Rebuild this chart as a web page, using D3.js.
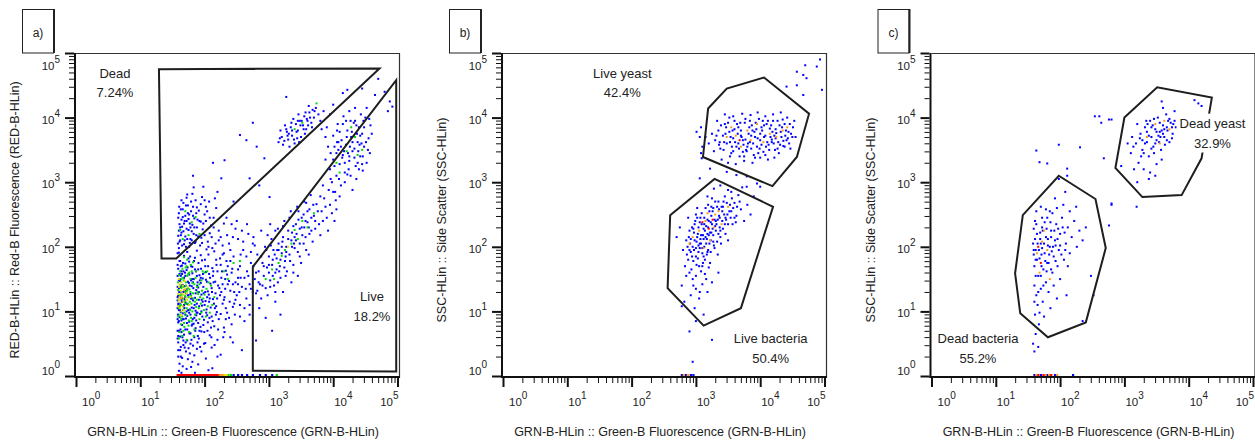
<!DOCTYPE html>
<html><head><meta charset="utf-8">
<script src="https://cdn.jsdelivr.net/npm/d3@7"></script>
<style>
body{margin:0;background:#fff;}
svg text{font-family:Arial,"Liberation Sans",sans-serif;fill:#222;}
</style>
</head><body>
<svg id="chart" width="1255" height="440"></svg>
<script>
// ---------------- DATA (log10 exponents: [x, y]) ----------------
const panelTags = ['a)', 'b)', 'c)'];
const yTitles = ['RED-B-HLin :: Red-B Fluorescence (RED-B-HLin)', 'SSC-HLin :: Side Scatter (SSC-HLin)', 'SSC-HLin :: Side Scatter (SSC-HLin)'];
const xTitle = 'GRN-B-HLin :: Green-B Fluorescence (GRN-B-HLin)';
const tickExps = [0, 1, 2, 3, 4, 5];

// gates
const gateDead = [[1.29,4.75],[4.72,4.76],[1.56,1.82],[1.33,1.82]];
const gateLive = [[2.75,1.69],[4.98,4.58],[4.98,0.07],[2.75,0.08]];
const gateLiveYeast = [[3.19,4.14],[3.48,4.45],[4.06,4.62],[4.76,4.06],[4.57,3.39],[4.19,2.94],[3.11,3.39]];
const gateLiveBacteria = [[3.29,3.05],[4.20,2.62],[3.70,1.05],[3.12,0.78],[2.56,1.36],[2.60,2.49]];
const gateDeadYeast = [[3.00,4.00],[3.51,4.47],[4.36,4.31],[4.20,3.37],[3.89,2.80],[3.28,2.77],[2.86,3.22]];
const gateDeadBacteria = [[1.98,3.10],[2.55,2.74],[2.71,1.98],[2.40,0.83],[1.81,0.60],[1.38,0.97],[1.30,1.59],[1.42,2.49]];

const gateNamesA = ['Dead', 'Live'];
const gatePctA = ['7.24%', '18.2%'];
const gateNamesB = ['Live yeast', 'Live bacteria'];
const gatePctB = ['42.4%', '50.4%'];
const gateNamesC = ['Dead yeast', 'Dead bacteria'];
const gatePctC = ['32.9%', '55.2%'];

// panel a events
const aBlue = [
[1.60,0.08],[1.66,0.15],[1.72,0.11],[1.81,0.22],[1.63,0.30],[1.90,0.18],[1.77,0.35],[2.02,0.27],[1.59,0.40],[1.69,0.44],[1.85,0.05],[2.12,0.12],[1.95,0.38],[1.61,0.19],[1.74,0.26],[2.25,0.33],[1.88,0.42],[1.64,0.05],[2.06,0.09],[1.79,0.14],
[1.59,0.52],[1.62,0.61],[1.67,0.48],[1.70,0.72],[1.73,0.55],[1.78,0.66],[1.82,0.47],[1.86,0.74],[1.91,0.58],[1.95,0.69],[2.01,0.51],[2.08,0.63],[2.15,0.77],[1.60,0.70],[1.65,0.79],[1.75,0.43],[1.84,0.60],[1.93,0.45],[2.20,0.56],[2.31,0.68],[1.68,0.64],[1.98,0.79],[1.58,0.58],[2.11,0.44],[1.80,0.78],[2.40,0.60],[1.63,0.45],[1.89,0.52],
[1.59,0.83],[1.61,0.91],[1.60,1.02],[1.62,1.13],[1.64,0.86],[1.66,0.97],[1.67,1.08],[1.69,1.19],[1.71,0.89],[1.72,1.00],[1.74,1.11],[1.76,0.84],[1.78,0.95],[1.80,1.06],[1.82,1.17],[1.84,0.90],[1.86,1.01],[1.88,1.12],[1.90,0.82],[1.93,0.96],[1.96,1.09],[1.99,0.87],[2.03,1.03],[2.07,1.15],[2.11,0.92],[2.16,1.05],[2.22,0.88],[2.28,1.12],[2.35,0.98],[2.44,1.07],[1.58,1.17],[1.63,0.99],[1.70,1.14],[1.77,1.03],[1.83,0.81],[1.91,1.18],[2.00,1.10],[2.05,0.83],[2.13,1.19],[1.65,1.15],[1.73,0.93],[1.87,0.94],[1.95,1.00],[2.19,0.99],
[1.59,1.24],[1.60,1.36],[1.62,1.47],[1.61,1.58],[1.64,1.29],[1.66,1.41],[1.68,1.52],[1.70,1.22],[1.72,1.34],[1.74,1.46],[1.76,1.57],[1.78,1.27],[1.80,1.39],[1.83,1.50],[1.85,1.21],[1.87,1.33],[1.89,1.45],[1.92,1.56],[1.95,1.26],[1.98,1.38],[2.02,1.49],[2.05,1.31],[2.09,1.43],[2.13,1.55],[2.17,1.28],[2.21,1.40],[2.26,1.52],[2.32,1.35],[2.38,1.47],[2.46,1.30],[1.63,1.55],[1.69,1.39],[1.75,1.25],[1.81,1.59],[1.90,1.37],[1.97,1.51],[2.04,1.22],[2.11,1.36],[2.24,1.25],[1.67,1.30],[1.79,1.48],[1.94,1.44],[2.07,1.58],[2.35,1.57],[2.52,1.42],
[1.59,1.66],[1.62,1.78],[1.65,1.71],[1.68,1.86],[1.72,1.64],[1.76,1.77],[1.81,1.69],[1.85,1.83],[1.90,1.65],[1.96,1.79],[2.01,1.70],[2.06,1.88],[2.12,1.67],[2.18,1.80],[2.25,1.72],[2.33,1.63],[1.60,1.91],[1.73,1.92],[1.88,1.94],[2.02,1.61],[2.15,1.93],[2.40,1.78],[1.94,1.87],[1.70,1.74],
[1.585,0.95],[1.595,1.10],[1.605,1.30],[1.615,1.50],[1.625,0.72],[1.635,1.62],[1.645,1.40],[1.655,0.60],[1.665,1.75],[1.675,0.88],[1.685,1.05],[1.695,1.60],[1.705,0.52],[1.715,1.28],[1.725,0.82],[1.735,1.68],[1.745,1.02],[1.755,1.44],[1.765,0.66],[1.775,1.85],[1.785,1.20],[1.795,0.56],[1.805,1.50],[1.815,0.88],[1.825,1.36],[1.835,1.78],[1.845,1.10],[1.855,0.70],[1.865,1.62],[1.875,0.98],[1.885,1.40],[1.895,0.62],[1.905,1.75],[1.915,1.08],[1.925,1.48],[1.935,0.76],[1.945,1.66],[1.955,1.18],[1.965,0.92],[1.975,1.58],[1.985,1.28],[1.995,0.68],[2.005,1.80],[2.015,1.16],[2.025,0.98],[2.035,1.46],[2.045,0.70],[2.055,1.70],[2.065,1.26],[2.075,0.90],[2.085,1.52],[2.095,1.06],[2.105,0.60],[2.115,1.30],[2.125,0.85],[2.135,1.62],[2.145,1.12],[2.155,0.48],[2.165,1.46],[2.175,0.95],[2.185,1.72],[2.195,1.20],[2.21,0.72],[2.23,1.36],[2.25,0.96],[2.27,1.62],[2.29,0.60],[2.31,1.22],[2.33,0.88],[2.36,1.42],[2.39,1.15],[2.42,0.80],[2.48,1.18],[2.55,0.92],[2.34,1.78],[2.28,1.88],[2.43,1.66],
[1.58,0.70],[1.58,0.88],[1.58,1.05],[1.58,1.22],[1.58,1.38],[1.58,1.55],[1.58,1.72],[1.58,1.90],[1.59,0.30],[1.59,0.62],[1.59,1.12],[1.60,1.48],[1.60,0.85],[1.61,1.22],[1.61,1.78],[1.62,0.40],[1.62,1.02],[1.63,1.38],[1.63,1.70],[1.64,0.68],[1.64,1.18],[1.65,1.58],[1.65,0.28],[1.66,0.88],[1.67,1.62],[1.67,0.55],[1.68,1.10],[1.69,1.32],[1.70,0.95],[1.70,1.55],[1.71,0.38],[1.72,1.12],[1.73,0.72],[1.74,1.25],[1.75,1.82],[1.76,0.98],[1.77,1.40],[1.78,0.50],[1.79,1.70],[1.80,1.20],[1.81,0.80],[1.82,1.45],[1.83,1.05],[1.84,0.32],[1.85,1.65],[1.86,1.28],[1.87,0.86],[1.88,1.55],[1.89,0.98],[1.91,1.30],[1.92,0.70],[1.94,1.52],[1.97,1.15],[1.99,0.50],[2.01,1.30],[2.04,0.94],[2.08,1.20],[2.10,0.75],[2.14,1.45],[2.18,1.08],
[1.60,1.98],[1.62,2.10],[1.64,2.22],[1.61,2.35],[1.66,2.46],[1.63,2.58],[1.68,2.04],[1.70,2.16],[1.72,2.28],[1.69,2.40],[1.74,2.52],[1.71,2.64],[1.76,2.00],[1.78,2.12],[1.80,2.24],[1.77,2.36],[1.82,2.48],[1.79,2.70],[1.85,2.06],[1.87,2.18],[1.84,2.30],[1.89,2.42],[1.91,2.56],[1.93,2.02],[1.95,2.14],[1.97,2.27],[1.94,2.39],[2.00,2.50],[2.02,2.62],[2.05,2.08],[2.08,2.21],[2.10,2.33],[2.14,2.45],[2.18,2.60],[1.59,2.17],[1.65,2.31],[1.73,2.81],[1.83,2.92],[1.96,2.77],[2.07,2.70],[2.20,2.85],[1.60,2.52],[1.75,2.43],[1.88,2.61],[2.03,1.96],[2.12,1.98],[2.25,2.15],[2.30,2.36],[1.67,2.68],[1.81,2.82],[1.98,2.93],[2.16,2.75],
[1.585,2.05],[1.59,2.45],[1.60,2.25],[1.605,2.62],[1.61,2.08],[1.62,2.30],[1.63,2.18],[1.64,2.42],[1.65,2.02],[1.66,2.58],[1.67,2.24],[1.68,2.36],[1.69,2.10],[1.70,2.48],[1.71,2.00],[1.72,2.40],[1.73,2.12],[1.74,2.64],[1.75,2.26],[1.76,2.50],[1.77,2.06],[1.78,2.30],[1.79,2.55],[1.80,2.10],[1.81,2.34],[1.82,2.62],[1.83,2.20],[1.84,2.44],[1.86,2.08],[1.87,2.52],[1.88,2.30],[1.90,2.16],[1.92,2.40],[1.94,2.66],[1.96,2.06],[1.98,2.36],[2.00,2.18],[2.02,2.40],[2.04,2.55],[2.06,2.00],[2.08,2.45],[2.11,2.15],[2.14,2.30],[2.17,2.05],[2.22,2.25],[1.64,2.72],[1.72,2.76],[1.86,2.72],[2.00,2.72],
[2.30,1.90],[2.38,2.05],[2.45,1.85],[2.52,2.12],[2.60,1.95],[2.68,2.20],[2.55,1.70],[2.42,1.60],[2.62,1.52],[2.48,2.28],[2.72,1.75],[2.35,2.18],[2.58,1.38],[2.66,1.62],[2.50,1.25],[2.78,2.02],[2.28,1.42],[2.40,1.32],[2.70,1.42],[2.33,1.05],[2.55,1.10],[2.47,0.95],[2.62,0.85],[2.30,0.75],[2.44,0.52],[2.20,0.30],[2.58,0.40],[2.65,1.20],[2.75,1.30],[2.52,1.52],
[2.20,1.62],[2.24,1.82],[2.28,2.02],[2.32,1.50],[2.36,1.70],[2.40,1.95],[2.44,2.15],[2.48,1.45],[2.52,1.65],[2.56,1.88],[2.60,2.08],[2.64,1.35],[2.68,1.55],[2.72,1.92],[2.76,2.15],[2.22,2.10],[2.30,1.18],[2.38,0.90],[2.46,1.12],[2.54,1.30],[2.62,1.05],[2.70,0.95],[2.58,2.25],[2.66,2.35],[2.50,2.40],[2.42,2.35],[2.34,2.45],[2.26,1.30],[2.44,1.42],[2.56,1.52],
[2.55,3.73],[2.65,3.65],[2.75,3.92],[2.81,3.55],[2.13,3.30],[2.31,3.34],[2.26,3.06],[1.82,3.10],[2.93,3.37],[3.01,2.77],[2.70,3.06],[3.27,4.32],[2.45,2.70],[2.85,2.95],
[3.15,3.62],[3.20,3.70],[3.22,3.58],[3.28,3.78],[3.30,3.66],[3.34,3.85],[3.36,3.72],[3.40,3.60],[3.42,3.90],[3.45,3.80],[3.48,3.95],[3.50,3.70],[3.53,3.88],[3.55,4.02],[3.58,3.82],[3.60,3.95],[3.63,4.08],[3.66,3.92],[3.68,4.12],[3.70,4.00],[3.73,4.15],[3.38,3.98],[3.25,3.88],[3.46,4.05],[3.62,4.18],[3.18,3.80],[3.32,3.55],[3.56,3.75],[3.77,4.05],[3.44,3.68],
[3.17,3.68],[3.24,3.64],[3.27,3.82],[3.31,3.75],[3.35,3.92],[3.39,3.66],[3.43,3.78],[3.47,3.62],[3.51,3.95],[3.54,3.82],[3.57,4.08],[3.61,3.88],[3.64,4.00],[3.67,3.85],[3.71,4.10],[3.36,3.80],[3.49,3.88],[3.59,3.98],[3.29,3.72],[3.45,3.95],
[3.95,3.20],[4.00,3.35],[4.05,3.10],[4.08,3.50],[4.10,3.28],[4.13,3.65],[4.15,3.42],[4.18,3.15],[4.20,3.58],[4.22,3.80],[4.25,3.33],[4.28,3.70],[4.30,3.48],[4.32,3.92],[4.35,3.25],[4.38,3.62],[4.40,3.85],[4.42,3.40],[4.45,3.75],[4.48,3.55],[4.50,4.00],[4.52,3.30],[4.55,3.68],[4.58,3.88],[4.12,2.95],[4.03,2.85],[4.18,3.00],[4.27,3.10],[4.36,3.05],[4.46,3.18],[4.00,3.72],[4.07,3.90],[4.16,4.02],[4.25,4.10],[4.34,4.15],[4.43,4.05],[3.92,3.55],[3.98,3.00],[4.23,3.45],[4.33,3.52],[4.40,3.20],[4.10,3.78],[4.20,3.95],[4.47,3.95],[4.57,3.45],[4.30,2.88],[4.06,3.62],[4.14,3.38],[4.26,3.55],[4.37,3.75],[4.05,3.45],[4.44,3.60],[3.88,3.35],[4.60,3.75],[4.52,4.15],
[3.96,3.45],[4.02,3.25],[4.06,3.80],[4.09,3.05],[4.12,3.55],[4.15,3.90],[4.18,3.30],[4.21,3.70],[4.24,3.20],[4.27,3.95],[4.30,3.62],[4.33,3.38],[4.36,3.88],[4.39,3.48],[4.42,3.72],[4.45,3.28],[4.48,3.85],[4.51,3.62],[4.54,3.50],[4.56,3.98],[4.17,3.48],[4.29,3.78],[4.41,3.58],[4.08,3.62],[4.22,3.12],[4.34,3.95],[4.46,3.40],[4.02,3.55],[4.25,3.40],[4.38,3.30],
[3.80,3.95],[3.85,4.10],[3.90,3.85],[3.95,4.05],[4.00,4.20],[3.88,3.70],[3.82,3.82],
[4.65,4.35],[4.80,4.40],[4.85,4.10],[4.45,4.45],[4.70,4.60],[4.92,4.17],[4.88,4.25],[4.22,4.43],[4.15,4.38],
[2.72,1.35],[2.78,1.50],[2.80,1.28],[2.84,1.62],[2.86,1.42],[2.90,1.75],[2.92,1.55],[2.95,1.36],[2.97,1.68],[3.00,1.85],[3.02,1.48],[3.05,1.72],[3.07,1.95],[3.10,1.60],[3.12,1.82],[3.15,2.05],[3.17,1.70],[3.20,1.90],[3.22,2.15],[3.25,1.78],[3.27,2.00],[3.30,2.25],[3.32,1.88],[3.35,2.10],[3.38,2.32],[3.40,1.98],[3.43,2.20],[3.46,2.42],[3.48,2.05],[3.51,2.30],[3.54,2.50],[3.57,2.15],[3.60,2.38],[3.63,2.58],[3.66,2.25],[3.70,2.48],[3.74,2.66],[3.78,2.35],[3.82,2.55],[3.86,2.75],[3.90,2.45],[3.95,2.65],[4.00,2.85],[4.05,2.58],[4.10,2.78],[2.88,1.20],[2.98,1.25],[3.08,1.40],[3.18,1.52],[3.28,1.62],[3.38,1.72],[3.48,1.85],[3.58,1.95],[3.68,2.08],[3.80,2.18],[2.76,1.70],[2.82,1.88],[2.94,2.00],[3.04,2.12],[3.14,2.28],[3.24,2.40],[3.34,2.55],[3.44,2.62],[3.55,2.70],[3.65,2.80],[3.00,1.60],[3.13,1.95],[3.26,1.85],[3.36,2.00],[3.16,1.62],[3.06,1.80],[3.42,2.10],[3.52,2.18],[3.62,2.30],[3.72,2.40],[2.85,1.05],[2.95,0.90],[3.10,1.15],[3.22,1.30],[3.35,1.45],[2.70,1.10],[3.45,1.55],[2.65,1.85],[2.75,2.05],[2.88,2.25],[3.02,2.35],[3.92,2.25],[4.02,2.40],[3.84,2.95],[3.96,3.05],[3.05,0.70],[2.80,0.55],[3.18,0.95],
[2.80,1.60],[2.84,1.45],[2.88,1.85],[2.92,1.70],[2.96,1.95],[3.00,1.72],[3.03,2.02],[3.06,1.55],[3.09,1.88],[3.12,1.65],[3.15,1.95],[3.18,1.80],[3.21,2.08],[3.24,1.68],[3.27,1.92],[3.30,2.12],[3.33,1.78],[3.36,2.22],[3.39,2.05],[3.42,2.35],[3.45,1.92],[3.48,2.28],[3.51,2.45],[3.54,2.05],[3.57,2.40],[3.60,2.55],[3.63,2.20],[3.66,2.45],[3.69,2.65],[3.72,2.28],[3.76,2.55],[3.80,2.78],[3.84,2.40],[3.88,2.62],[3.93,2.88],[3.98,2.52],[4.04,2.72],[2.90,1.40],[3.02,1.38],[3.14,1.45],[3.26,1.55],[3.38,1.60],[3.50,1.75],[3.62,1.88],[2.98,2.18],[3.10,2.25],[3.22,2.32],[3.32,2.45],[3.46,2.55],[3.58,2.68],[3.10,1.30],[2.82,1.32],[3.20,2.00],[3.40,2.15],[3.55,2.30]
];
const aGreen = [[1.60,1.05],[1.62,1.25],[1.65,0.92],[1.67,1.38],[1.70,1.12],[1.73,1.55],[1.75,0.78],[1.78,1.30],[1.81,1.00],[1.84,1.42],[1.88,1.18],[1.92,0.88],[1.96,1.32],[2.00,1.60],[2.05,1.08],[1.61,0.68],[1.64,1.50],[1.69,0.98],[1.72,1.70],[1.77,1.15],[1.83,0.62],[1.86,1.52],[1.90,1.27],[1.99,1.02],[2.10,1.40],[1.59,1.33],[1.66,1.20],[1.74,1.36],[1.80,1.62],[1.94,1.12],[2.15,1.22],[1.63,0.80],[1.71,1.45],[1.79,0.90],[1.87,1.07],[2.03,1.35],
[1.595,1.18],[1.62,0.95],[1.64,1.36],[1.66,1.52],[1.68,0.82],[1.70,1.30],[1.72,1.05],[1.75,1.22],[1.78,1.50],[1.80,0.85],[1.82,1.28],[1.85,1.15],[1.88,1.38],[1.91,1.05],[1.95,1.48],[1.98,1.20],[2.02,0.92],[2.06,1.45],[1.62,1.62],[1.67,0.70],[1.73,1.80],[1.60,0.58],[1.76,1.60],[1.69,1.16],[1.84,0.72],[2.12,1.10],[1.63,1.10],[1.71,1.40],
[1.585,1.45],[1.59,0.92],[1.605,1.56],[1.615,1.08],[1.625,1.40],[1.635,0.88],[1.645,1.26],[1.655,1.66],[1.665,1.02],[1.675,1.48],[1.685,0.76],[1.695,1.24],[1.705,1.68],[1.715,0.94],[1.725,1.32],[1.735,1.12],[1.745,1.58],[1.755,0.86],[1.765,1.34],[1.775,1.02],[1.785,1.72],[1.795,1.12],[1.81,1.44],[1.83,1.20],[1.85,0.95],[1.87,1.62],[1.89,1.30],[1.92,1.42],[1.95,0.98],[1.97,1.62],[2.00,1.26],[2.04,1.62],[2.08,0.98],[1.76,0.68],[1.65,0.62],[1.72,0.56],[1.82,1.76],[1.68,1.84],[1.93,1.22],[1.79,1.24],
[1.66,2.12],[1.80,2.38],[1.92,2.20],[1.70,2.55],[2.45,1.75],[2.36,1.50],[3.52,3.92],[3.40,3.82],[3.74,4.22],[4.21,3.48],[4.34,3.70],[4.10,3.15],[4.45,3.50],[4.28,3.85],
[1.62,2.26],[1.75,2.18],[1.86,2.46],[2.30,1.62],[2.55,1.78],
[3.05,1.65],[3.25,1.95],[3.45,2.12],[3.15,1.75],[3.60,2.30],[3.35,2.05],[2.95,1.50],[3.70,2.52],[3.20,1.86],[3.40,2.26],[3.08,1.50],[3.52,2.40],[4.05,3.30],[4.38,3.42]];
const aYellow = [[1.60,1.18],[1.63,1.32],[1.66,1.08],[1.68,1.26],[1.61,1.42],[1.71,1.20],[1.64,1.00],[1.74,1.38],[1.59,1.27],[1.69,1.47],[1.76,1.10],[1.62,1.14],[3.30,2.00],
[1.60,1.38],[1.65,1.28],[1.67,1.15],[1.62,1.05],[1.70,1.35],[1.64,1.45],[1.73,1.18],[1.61,1.22],[1.59,1.08],[1.66,1.40],[1.72,1.28],[1.63,0.94],[1.68,1.02],[1.78,1.22],[1.60,1.50]];
const aOrange = [[1.65,1.22],[1.63,1.20],[1.68,1.33]];
// events piled up on the x axis (y at minimum)
const aAxisRed = [1.58,1.60,1.62,1.64,1.66,1.68,1.70,1.72,1.74,1.76,1.78,1.80,1.82,1.84,1.86,1.88,1.90,1.92,1.94,1.96,1.98,2.00,2.02,2.04,2.06,2.08,2.10,2.12,2.14,2.16,2.18,2.20];
const aAxisOrange = [2.22,2.25,2.28];
const aAxisYellow = [2.31,2.34];
const aAxisGreen = [2.37,2.41,3.12];
const aAxisBlue = [2.45,2.52,2.58,2.66,2.75,2.86,2.95,3.05];

// panel b events
const bBlue = [
[3.30,3.65],[3.35,3.80],[3.38,3.52],[3.42,3.72],[3.45,3.90],[3.48,3.60],[3.52,3.78],[3.55,3.45],[3.58,3.68],[3.60,3.95],[3.63,3.55],[3.66,3.85],[3.68,3.40],[3.71,3.70],[3.74,3.58],[3.76,3.92],[3.79,3.48],[3.82,3.75],[3.84,3.62],[3.87,3.88],[3.90,3.42],[3.92,3.70],[3.95,3.55],[3.98,3.98],[4.00,3.65],[4.03,3.80],[4.05,3.47],[4.08,3.72],[4.10,3.90],[4.13,3.58],[4.15,3.83],[4.18,3.66],[4.20,3.95],[4.23,3.50],[4.25,3.76],[4.28,3.62],[4.30,3.88],[4.33,3.70],[4.35,3.97],[4.38,3.55],[4.40,3.80],[4.43,3.68],[4.46,3.90],[4.48,3.75],[4.51,3.85],[4.55,3.70],[3.40,3.35],[3.50,3.30],[3.62,3.28],[3.75,3.33],[3.88,3.30],[4.00,3.38],[4.12,3.35],[4.22,3.38],[3.33,3.95],[3.45,4.05],[3.58,4.02],[3.72,4.06],[3.85,4.04],[3.96,4.08],[4.08,4.02],[4.20,4.05],[4.32,4.08],[4.42,4.00],[3.25,3.75],[3.28,3.48],[3.20,3.60],[3.53,3.62],[3.65,3.75],[3.77,3.66],[3.86,3.52],[3.94,3.82],[4.02,3.58],[4.16,3.70],[4.27,3.52],[4.36,3.64],[3.47,3.85],[3.56,3.55],[3.69,3.92],[3.81,3.60],[3.91,3.78],[4.06,3.88],[4.19,3.78],[4.31,3.58],[4.45,3.60],[3.37,3.62],[3.60,3.82],[3.73,3.47],[3.97,3.45],[4.11,3.62],[4.24,3.68],[4.39,3.72],[4.53,3.95],[3.15,3.70],[3.08,3.85],[3.10,3.55],
[3.32,3.72],[3.36,3.58],[3.39,3.88],[3.43,3.50],[3.46,3.75],[3.50,3.92],[3.53,3.40],[3.57,3.80],[3.61,3.62],[3.64,3.90],[3.67,3.52],[3.70,3.80],[3.73,3.65],[3.77,3.98],[3.80,3.55],[3.83,3.85],[3.86,3.72],[3.89,3.60],[3.93,3.92],[3.96,3.68],[3.99,3.52],[4.02,3.85],[4.06,3.70],[4.09,3.55],[4.12,3.95],[4.14,3.50],[4.17,3.88],[4.21,3.60],[4.24,3.82],[4.27,3.95],[4.29,3.45],[4.32,3.78],[4.36,3.56],[4.38,3.90],[4.41,3.65],[4.44,3.78],[4.47,3.52],[4.50,3.70],[3.58,3.48],[3.75,3.40],[3.92,3.38],[4.08,3.42],[3.66,3.60],[3.84,3.95],[4.00,3.75],[4.18,3.62],[4.34,3.85],[3.44,3.62],[3.54,3.70],[3.70,3.72],[3.88,3.80],[4.04,3.95],[4.22,3.72],[3.52,4.00],[3.78,3.50],
[4.70,4.81],[4.88,4.79],[4.57,4.71],[4.67,4.66],[4.72,4.61],[4.41,4.48],[4.57,4.50],[4.96,4.43],[4.67,4.35],[4.93,4.90],
[3.01,3.78],[3.06,3.70],[3.08,3.45],[3.09,3.37],
[3.22,3.21],[3.48,3.16],[3.63,3.11],[3.79,3.09],[3.95,2.98],[3.06,3.06],[3.79,2.93],[4.00,2.93],
[2.80,1.95],[2.85,2.10],[2.88,1.80],[2.90,2.25],[2.93,1.65],[2.95,2.00],[2.98,2.35],[3.00,1.85],[3.02,2.15],[3.05,1.70],[3.07,2.45],[3.08,2.05],[3.10,1.90],[3.12,2.28],[3.14,1.58],[3.15,2.60],[3.17,2.12],[3.19,1.95],[3.20,2.40],[3.22,1.75],[3.24,2.22],[3.26,2.55],[3.28,2.02],[3.30,2.70],[3.32,2.35],[3.34,1.88],[3.36,2.48],[3.38,2.15],[3.40,2.62],[3.42,2.28],[3.45,2.78],[3.47,2.42],[3.50,2.10],[3.52,2.55],[3.55,2.85],[3.57,2.35],[3.60,2.68],[3.63,2.48],[3.66,2.80],[3.70,2.58],[3.75,2.40],[3.80,2.65],[2.95,1.50],[3.00,1.35],[3.05,1.20],[3.10,1.42],[2.92,1.25],[3.18,1.30],[2.85,1.55],[3.25,1.45],[2.98,1.05],[3.12,0.95],[2.78,1.40],[2.82,1.15],[3.35,1.60],[2.88,2.45],[3.02,2.60],[3.18,2.78],[3.28,2.90],[3.38,2.95],[3.00,2.50],[2.75,2.30],[3.06,1.98],[3.16,2.32],[3.21,2.05],[3.27,2.18],[3.33,2.08],[3.11,2.18],[2.97,2.22],[3.04,2.30],[3.14,1.80],[3.23,1.92],[3.29,2.42],[3.37,2.30],[3.44,2.50],[3.48,2.68],[3.54,2.45],[3.58,2.60],[3.62,2.38],[3.68,2.70],[3.09,2.52],[3.19,2.65],[3.25,2.75],[2.90,1.95],[2.96,1.78],[3.01,2.08],[3.13,2.00],[3.18,2.20],[3.31,2.25],[3.41,2.40],[3.46,2.20],[3.24,2.48],[3.35,2.70],[2.87,2.00],[2.83,1.70],[3.08,1.62],[3.20,1.68],[3.50,2.88],[3.72,2.92],[3.85,2.50],[3.90,2.78],[2.78,1.08],[2.70,2.15],[3.00,0.85],
[2.86,1.88],[2.89,2.15],[2.92,1.92],[2.94,2.30],[2.97,1.95],[2.99,2.40],[3.01,1.72],[3.03,2.20],[3.06,2.05],[3.09,2.35],[3.11,1.75],[3.13,2.45],[3.15,2.15],[3.17,1.88],[3.19,2.30],[3.21,2.55],[3.23,2.10],[3.25,2.35],[3.27,2.60],[3.29,1.98],[3.31,2.40],[3.33,2.62],[3.35,2.20],[3.37,2.45],[3.39,2.05],[3.41,2.55],[3.43,2.70],[3.45,2.35],[3.49,2.50],[3.53,2.65],[3.56,2.75],[3.60,2.45],[3.64,2.62],[3.06,2.38],[3.12,2.12],[3.18,2.42],[3.22,2.22],[3.26,2.28],[3.14,2.25],[3.08,2.18],[2.98,2.10],[3.02,2.45],[2.94,1.85],[3.04,1.92],[2.90,1.60],[3.00,1.55],[3.10,1.70],[3.16,1.50],[2.96,1.40],[3.06,1.30],
[2.91,2.05],[2.96,2.28],[3.00,1.98],[3.03,1.82],[3.07,2.12],[3.10,1.98],[3.13,2.35],[3.16,2.05],[3.20,2.18],[3.23,2.38],[3.27,2.08],[3.30,2.32],[3.34,2.42],[3.38,2.25],[3.42,2.62],[3.46,2.45],[3.50,2.35],[3.55,2.55],[3.24,2.62],[3.12,1.85],[3.04,2.02],[2.92,2.12],[3.18,1.92],[3.36,2.58],
[2.90,0.69],[2.95,0.22],[3.25,0.56]
];
const bOrange = [[3.62,3.72],[3.80,3.80],[4.05,3.62],[4.15,3.75],[3.70,3.55],[3.95,3.90],[4.25,3.70],[3.55,3.85],[4.35,3.80],[3.85,3.65],[4.42,3.85],[3.48,3.70],
[3.05,2.25],[3.15,2.40],[3.22,2.10],[3.30,2.50],[2.95,2.15],[3.40,2.35],[3.12,1.98],[3.35,2.55],[2.90,2.05],[3.50,2.62],[3.28,2.30],[3.18,2.52]];
const bRed = [[3.68,3.65],[3.20,2.28],[3.10,2.38],[3.26,2.42]];
const bAxisBlue = [2.78,2.84,2.92,2.96];
const bAxisOrange = [2.81,2.88];

// panel c events
const cBlue = [
[3.10,3.45],[3.18,3.60],[3.22,3.30],[3.25,3.75],[3.28,3.50],[3.32,3.85],[3.35,3.62],[3.38,3.40],[3.40,3.95],[3.42,3.70],[3.45,3.55],[3.48,3.82],[3.50,3.65],[3.52,4.00],[3.55,3.78],[3.57,3.50],[3.60,3.88],[3.62,3.70],[3.65,4.05],[3.67,3.80],[3.70,3.62],[3.72,3.92],[3.75,3.75],[3.78,4.10],[3.80,3.85],[3.30,3.20],[3.40,3.15],[3.50,3.28],[3.58,3.35],[3.15,3.20],[3.05,3.60],[3.20,3.90],[3.35,3.78],[3.46,3.45],[3.55,3.92],[3.63,3.58],[3.68,3.95],[3.44,3.88],[3.26,3.40],[3.12,3.70],[3.60,4.15],[3.74,3.68],[3.48,3.10],[3.38,3.05],[2.95,3.25],[3.20,3.00],[3.53,3.72],[3.36,3.90],[3.66,3.85],[3.78,3.95],[3.58,4.25],[3.28,3.65],
[3.14,3.55],[3.24,3.68],[3.30,3.45],[3.34,3.95],[3.38,3.72],[3.42,3.52],[3.46,3.98],[3.50,3.78],[3.54,3.62],[3.58,3.80],[3.62,3.82],[3.66,3.65],[3.70,3.98],[3.74,3.85],[3.42,3.85],[3.56,3.70],[3.48,3.60],[3.32,3.60],[3.60,3.75],[3.76,3.90],
[4.09,4.27],[4.20,4.18],[4.15,4.22],
[2.54,4.02],[2.61,4.02],[2.64,3.92],[2.76,3.97],[2.80,3.97],[2.68,3.37],[2.31,3.54],[1.98,3.58],[1.63,3.49],[1.68,3.31],[1.80,3.29],[2.11,3.21],[2.11,3.10],[2.80,2.67],[2.80,2.65],[2.76,2.33],[3.19,2.62],
[1.60,1.70],[1.62,1.95],[1.64,2.20],[1.61,2.40],[1.66,1.55],[1.68,1.82],[1.70,2.05],[1.72,2.30],[1.74,1.65],[1.76,1.90],[1.78,2.15],[1.80,2.45],[1.82,1.75],[1.84,2.00],[1.86,2.25],[1.88,1.60],[1.90,1.85],[1.92,2.10],[1.94,2.35],[1.96,1.70],[1.98,1.95],[2.00,2.20],[2.03,2.45],[2.06,1.80],[2.09,2.05],[2.12,2.30],[2.15,1.90],[2.18,2.15],[2.22,2.40],[2.26,2.00],[2.30,2.25],[2.35,2.10],[1.60,1.40],[1.63,1.25],[1.65,1.10],[1.61,0.95],[1.67,0.80],[1.62,0.65],[1.70,1.35],[1.73,1.15],[1.75,0.92],[1.78,1.45],[1.82,1.30],[1.85,1.05],[1.90,1.40],[1.95,1.20],[2.00,1.50],[1.58,0.50],[1.60,0.38],[1.66,0.45],[1.63,2.55],[1.70,2.62],[1.78,2.58],[1.88,2.52],[1.95,2.60],[2.05,2.65],[2.15,2.55],[2.25,2.62],[1.92,2.75],[2.08,2.85],[1.98,3.05],[2.40,2.30],[2.48,1.55],[2.52,1.25],[2.10,1.25],[2.35,0.85],[1.72,1.98],[1.81,2.12],[1.87,1.93],[1.93,2.02],[2.02,1.88],[1.69,2.22],[1.76,2.38],[1.85,2.38],[2.07,2.22],[1.64,1.80],[1.71,1.70],[1.79,1.62],[1.97,2.28],[2.12,1.70],[1.58,2.05],[1.59,1.88],[1.59,2.28],
[1.59,1.95],[1.61,2.12],[1.62,1.80],[1.63,2.35],[1.65,2.05],[1.67,1.95],[1.69,2.12],[1.71,1.88],[1.73,2.25],[1.75,2.05],[1.77,1.78],[1.79,2.28],[1.81,2.02],[1.83,1.88],[1.86,2.15],[1.89,2.00],[1.91,2.25],[1.93,1.78],[1.96,2.12],[2.00,2.02],[2.04,2.30],[2.08,1.95],[1.62,1.55],[1.66,1.30],[1.70,1.55],[1.74,1.40],[1.80,1.75],[1.86,1.65],[1.60,1.15],[1.68,0.98],[1.72,2.45],[1.84,2.55]
];
const cOrange = [[3.48,3.90],[3.62,3.95],[3.35,3.70],[3.55,3.60],[3.70,3.82],[1.64,1.90],[1.72,2.08],[1.80,1.95],[1.68,1.60],[1.75,2.25],[1.84,1.50]];
const cRed = [[1.66,2.00],[1.70,1.75]];
const cAxisBlue = [1.60,1.70,1.80,1.92,2.20];
const cAxisRed = [1.66,1.74,1.86];
const cAxisOrange = [1.63,1.77,1.83,1.95];

// ---------------- LAYOUT / STYLE ----------------
const colors = {blue:'#0000ff', green:'#00dd00', yellow:'#e8e000', orange:'#ff9a1a', red:'#ff0000'};
const plotTop = 53, plotBottom = 376, plotW = 324, decadeSpan = 321.5;
const panels = [
  {ox:76,  tag:panelTags[0], yTitle:yTitles[0],
   gates:[gateDead, gateLive],
   labelPos:[[39,77.5,97],[296,301,320.5]], labelNames:gateNamesA, labelPct:gatePctA,
   series:[[aBlue,'blue'],[aGreen,'green'],[aYellow,'yellow'],[aOrange,'orange']],
   axisSeries:[[aAxisBlue,'blue'],[aAxisGreen,'green'],[aAxisYellow,'yellow'],[aAxisOrange,'orange'],[aAxisRed,'red']]},
  {ox:503, tag:panelTags[1], yTitle:yTitles[1],
   gates:[gateLiveYeast, gateLiveBacteria],
   labelPos:[[119.3,77.5,97],[267.7,343.3,362.5]], labelNames:gateNamesB, labelPct:gatePctB,
   series:[[bBlue,'blue'],[bOrange,'orange'],[bRed,'red']],
   axisSeries:[[bAxisBlue,'blue'],[bAxisOrange,'orange']]},
  {ox:931.5, tag:panelTags[2], yTitle:yTitles[2],
   gates:[gateDeadYeast, gateDeadBacteria],
   labelPos:[[281,127.6,147.5],[46.5,343.3,362.5]], labelNames:gateNamesC, labelPct:gatePctC,
   series:[[cBlue,'blue'],[cOrange,'orange'],[cRed,'red']],
   axisSeries:[[cAxisBlue,'blue'],[cAxisOrange,'orange'],[cAxisRed,'red']]}
];

const svg = d3.select('#chart');
const P = e => Math.pow(10, e);
const minorVals = [];
[0,1,2,3,4].forEach(d => [2,3,4,5,6,7,8,9].forEach(m => minorVals.push(m * P(d))));
const majorVals = tickExps.map(P);

panels.forEach(p => {
  const ox = p.ox;
  const g = svg.append('g');
  const x = d3.scaleLog().domain([1, 1e5]).range([ox, ox + decadeSpan]);
  const y = d3.scaleLog().domain([1, 1e5]).range([plotBottom, plotTop]);

  const cid = 'clip' + Math.round(ox);
  svg.append('clipPath').attr('id', cid).append('rect')
    .attr('x', ox).attr('y', plotTop).attr('width', plotW).attr('height', plotBottom - plotTop + 1);
  const content = g.append('g').attr('clip-path', `url(#${cid})`);

  // events
  p.series.forEach(([arr, col]) => {
    content.append('g').selectAll('rect').data(arr).join('rect')
      .attr('x', d => x(P(d[0])) - 1).attr('y', d => y(P(d[1])) - 1)
      .attr('width', 2).attr('height', 2).attr('fill', colors[col]);
  });
  p.axisSeries.forEach(([arr, col]) => {
    content.append('g').selectAll('rect').data(arr).join('rect')
      .attr('x', d => x(P(d)) - 1).attr('y', y(1) - 2)
      .attr('width', 2.2).attr('height', 2).attr('fill', colors[col]);
  });

  // gates
  const line = d3.line().x(d => x(P(d[0]))).y(d => y(P(d[1]))).curve(d3.curveLinearClosed);
  p.gates.forEach(gt => {
    content.append('path').attr('d', line(gt)).attr('fill', 'none')
      .attr('stroke', '#1e1e1e').attr('stroke-width', 2).attr('stroke-linejoin', 'miter');
  });

  // gate labels (white background)
  p.labelPos.forEach((lp, i) => {
    const lg = g.append('g');
    const t1 = lg.append('text').attr('x', ox + lp[0]).attr('y', lp[1]).attr('text-anchor', 'middle')
      .attr('font-size', 13).text(p.labelNames[i]);
    const t2 = lg.append('text').attr('x', ox + lp[0]).attr('y', lp[2]).attr('text-anchor', 'middle')
      .attr('font-size', 13).text(p.labelPct[i]);
    const b1 = t1.node().getBBox(), b2 = t2.node().getBBox();
    const x0 = Math.min(b1.x, b2.x) - 3, x1 = Math.max(b1.x + b1.width, b2.x + b2.width) + 3;
    lg.insert('rect', 'text').attr('x', x0).attr('y', b1.y - 2).attr('width', x1 - x0)
      .attr('height', b2.y + b2.height - b1.y + 4).attr('fill', '#fff');
  });

  // frame (top/right)
  g.append('line').attr('x1', ox).attr('x2', ox + plotW).attr('y1', plotTop + 0.5).attr('y2', plotTop + 0.5)
    .attr('stroke', '#333').attr('stroke-width', 1.2);
  g.append('line').attr('x1', ox + plotW - 0.5).attr('x2', ox + plotW - 0.5).attr('y1', plotTop).attr('y2', plotBottom + 2)
    .attr('stroke', '#333').attr('stroke-width', 1.2);

  // axes
  const styleAxis = (sel, w) => { sel.select('.domain').remove(); sel.selectAll('line').attr('stroke', '#111').attr('stroke-width', w); };
  g.append('g').attr('transform', `translate(0,${plotBottom + 2})`)
    .call(d3.axisBottom(x).tickValues(minorVals).tickSize(5).tickFormat(''))
    .call(s => styleAxis(s, 1));
  g.append('g').attr('transform', `translate(0,${plotBottom + 2})`)
    .call(d3.axisBottom(x).tickValues(majorVals).tickSize(9).tickFormat(''))
    .call(s => styleAxis(s, 2));
  g.append('g').attr('transform', `translate(${ox - 2},0)`)
    .call(d3.axisLeft(y).tickValues(minorVals).tickSize(5).tickFormat(''))
    .call(s => styleAxis(s, 1));
  g.append('g').attr('transform', `translate(${ox - 2},0)`)
    .call(d3.axisLeft(y).tickValues(majorVals).tickSize(9).tickFormat(''))
    .call(s => styleAxis(s, 2));
  g.append('line').attr('x1', ox - 1).attr('x2', ox - 1).attr('y1', plotTop).attr('y2', plotBottom + 2)
    .attr('stroke', '#111').attr('stroke-width', 2);
  g.append('line').attr('x1', ox - 2).attr('x2', ox + plotW).attr('y1', plotBottom + 1).attr('y2', plotBottom + 1)
    .attr('stroke', '#111').attr('stroke-width', 2);

  // tick labels
  tickExps.forEach((e, i) => {
    const tx = x(P(e));
    let anchor = 'start', lx = tx + 1;
    if (i === 0) lx = tx + 6;
    if (i === tickExps.length - 1) { anchor = 'end'; lx = tx + 1; }
    const t = g.append('text').attr('x', lx).attr('y', 406).attr('text-anchor', anchor).attr('font-size', 11.5);
    t.append('tspan').text('10');
    t.append('tspan').attr('dy', -7).attr('font-size', 10).text(e);
    const ty = y(P(e));
    const by = i === 0 ? ty - 1 : (i === tickExps.length - 1 ? ty + 17 : ty + 6);
    const t2 = g.append('text').attr('x', ox - 16).attr('y', by).attr('text-anchor', 'end').attr('font-size', 11.5);
    t2.append('tspan').text('10');
    t2.append('tspan').attr('dy', -7).attr('font-size', 10).text(e);
  });

  // axis titles
  g.append('text').attr('x', ox + 157).attr('y', 435.5).attr('text-anchor', 'middle').attr('font-size', 12.5).text(xTitle);
  g.append('text').attr('transform', `translate(${ox - 57},220) rotate(-90)`).attr('text-anchor', 'middle')
    .attr('font-size', 12.5).text(p.yTitle);

  // panel tag box
  g.append('rect').attr('x', ox - 53.5).attr('y', 9.5).attr('width', 31).attr('height', 43.5)
    .attr('fill', 'none').attr('stroke', '#222').attr('stroke-width', 1);
  g.append('line').attr('x1', ox - 22).attr('x2', ox - 22).attr('y1', 9).attr('y2', 53)
    .attr('stroke', '#222').attr('stroke-width', 2);
  g.append('text').attr('x', ox - 38).attr('y', 37).attr('text-anchor', 'middle').attr('font-size', 12).text(p.tag);
});
</script>
</body></html>
